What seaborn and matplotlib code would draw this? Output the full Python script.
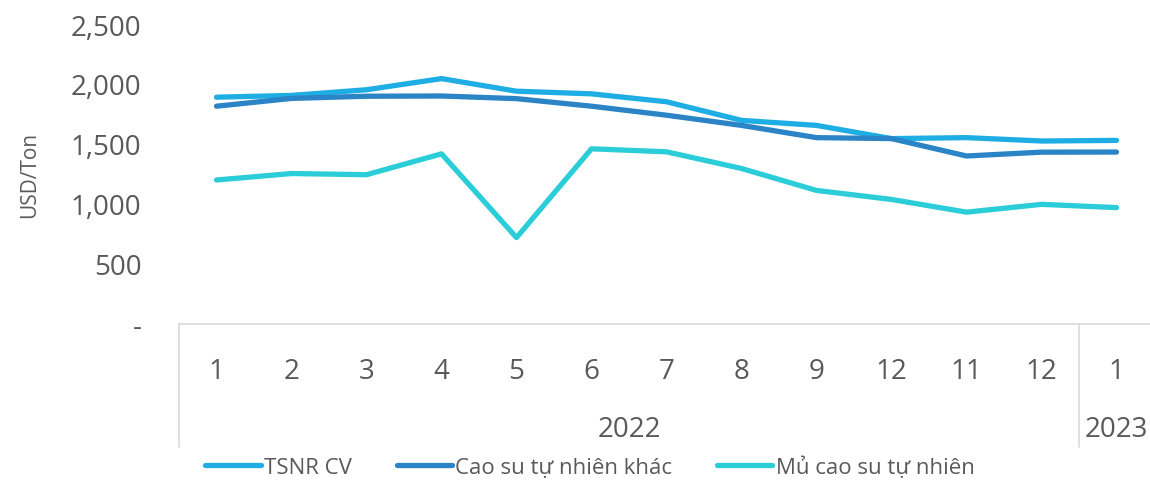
import matplotlib
matplotlib.use("Agg")
import matplotlib.pyplot as plt
import matplotlib.transforms as mtransforms
import pandas as pd
import seaborn as sns

# Monthly export prices (USD/Ton)
months = ["1", "2", "3", "4", "5", "6", "7", "8", "9", "12", "11", "12", "1"]
years = ["2022"] * 12 + ["2023"]
tsnr_cv = [1890, 1905, 1952, 2045, 1940, 1918, 1852, 1697, 1655, 1545, 1553, 1525, 1530]
cao_su_khac = [1815, 1880, 1898, 1900, 1878, 1815, 1740, 1655, 1553, 1545, 1400, 1432, 1433]
mu_cao_su = [1200, 1254, 1244, 1418, 720, 1460, 1435, 1296, 1113, 1038, 932, 997, 970]

series_names = ["TSNR CV", "Cao su tự nhiên khác", "Mủ cao su tự nhiên"]
series_values = [tsnr_cv, cao_su_khac, mu_cao_su]
colors = ["#1FAEE4", "#2A84C6", "#2BCDD8"]

rows = []
for name, vals in zip(series_names, series_values):
    for i, v in enumerate(vals):
        rows.append({"pos": i, "value": v, "series": name})
df = pd.DataFrame(rows)

sns.set_theme(style="white")
plt.rcParams["font.family"] = ["Open Sans", "DejaVu Sans"]
text_color = "#595959"
line_gray = "#D9D9D9"

fig = plt.figure(figsize=(11.5, 4.81), dpi=100)
ax = fig.add_axes([179 / 1150, 1 - 325 / 481, 975 / 1150, 300 / 481])

sns.lineplot(data=df, x="pos", y="value", hue="series", hue_order=series_names,
             palette=colors, linewidth=3.8, ax=ax, legend=True)
for ln in ax.lines:
    ln.set_solid_capstyle("round")
    ln.set_solid_joinstyle("round")

ax.set_xlim(-0.5, len(months) - 0.5)
ax.set_ylim(0, 2500)
ax.set_xlabel("")
ax.set_ylabel("USD/Ton", fontsize=15, color=text_color, labelpad=22)

yticks = [0, 500, 1000, 1500, 2000, 2500]
ax.set_yticks(yticks)
ax.set_yticklabels(["-" if t == 0 else f"{t:,}" for t in yticks])
ax.tick_params(axis="y", length=0, pad=27, labelsize=20, labelcolor=text_color)

ax.set_xticks(range(len(months)))
ax.set_xticklabels(months)
ax.tick_params(axis="x", length=0, pad=24, labelsize=20, labelcolor=text_color)

for side in ["left", "right", "top"]:
    ax.spines[side].set_visible(False)
ax.spines["bottom"].set_color(line_gray)
ax.spines["bottom"].set_linewidth(1.2)

# Year group separators and labels on the category axis
trans = mtransforms.blended_transform_factory(ax.transData, ax.transAxes)
group_bounds = []
start = 0
for i in range(1, len(years) + 1):
    if i == len(years) or years[i] != years[start]:
        group_bounds.append((start, i - 1, years[start]))
        start = i
for g_start, g_end, label in group_bounds:
    ax.plot([g_start - 0.5, g_start - 0.5], [0, -0.41], transform=trans,
            color=line_gray, linewidth=1.2, clip_on=False)
    ax.text((g_start + g_end) / 2, -0.35, label, transform=trans, ha="center",
            va="center", fontsize=20, color=text_color)

handles, labels = ax.get_legend_handles_labels()
for h in handles:
    h.set_solid_capstyle("round")
ax.legend(handles, labels, loc="center", bbox_to_anchor=(0.513, 0.027),
          bbox_transform=fig.transFigure, ncol=3, frameon=False, fontsize=16,
          handlelength=2.5, handletextpad=0.15, columnspacing=2.0,
          labelcolor=text_color)

fig.savefig("out.png", dpi=100)
